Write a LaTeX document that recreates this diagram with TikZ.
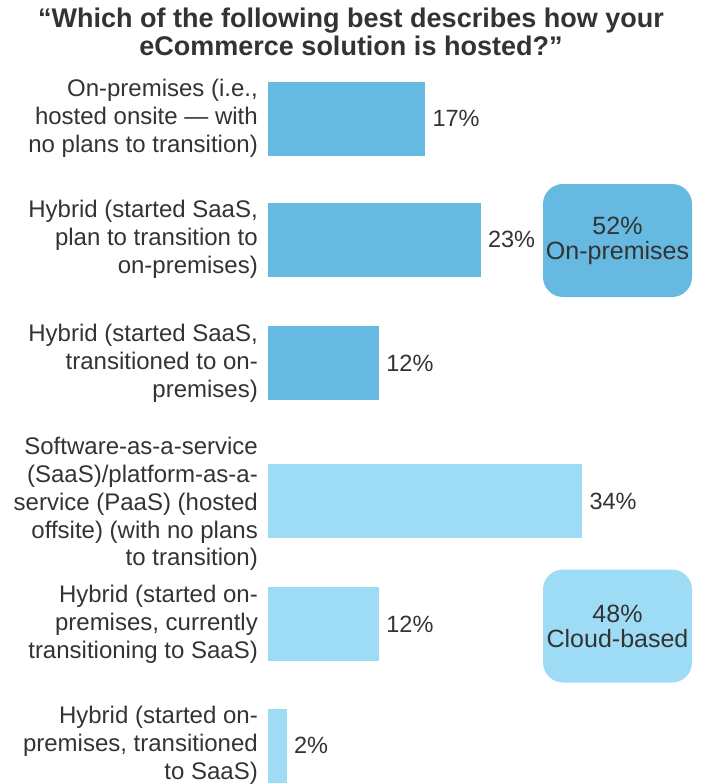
\documentclass[tikz,border=0pt]{standalone}
\usepackage{fontspec}
\setmainfont{Liberation Sans}
\usetikzlibrary{positioning}
\definecolor{onprem}{HTML}{66B9E1}
\definecolor{cloud}{HTML}{9EDCF6}
\definecolor{txt}{HTML}{333333}
\tikzset{
  bar/.style={fill=#1,inner sep=0pt,minimum height=74pt,anchor=west},
  lab/.style={anchor=east,align=right,text=txt,inner sep=0pt,font=\fontsize{24}{27.8}\selectfont},
  val/.style={anchor=west,text=txt,inner sep=0pt,font=\fontsize{23.5}{25}\selectfont},
  sumbox/.style={fill=#1,rounded corners=20pt,minimum width=149pt,minimum height=113pt,
    align=center,text=txt,inner sep=0pt,font=\fontsize{25}{25}\selectfont}
}
\begin{document}
\begin{tikzpicture}[x=1pt,y=-1pt]
\useasboundingbox (0,0) rectangle (705,784);
% title
\node[align=center,text=txt,font=\bfseries\fontsize{27}{28}\selectfont] (title) at (351,32)
  {“Which of the following best describes how your\\eCommerce solution is hosted?”};
% bars and values
\foreach \n/\v/\c/\y in {1/17/onprem/118.5, 2/23/onprem/239.5, 3/12/onprem/363,
                         4/34/cloud/501, 5/12/cloud/624, 6/2/cloud/745.5}{
  \node[bar=\c,minimum width=\v*9.235pt] (b\n) at (268,\y) {};
  \node[val] (v\n) at ([xshift=7pt]b\n.east) {\v\%};
}
% labels
\node[lab] (l1) at ([xshift=-10pt]b1.west) {On-premises (i.e.,\\hosted onsite — with\\no plans to transition)};
\node[lab] (l2) at ([xshift=-10pt]b2.west) {Hybrid (started SaaS,\\plan to transition to\\on-premises)};
\node[lab] (l3) at ([xshift=-10pt]b3.west) {Hybrid (started SaaS,\\transitioned to on-\\premises)};
\node[lab] (l4) at ([xshift=-10pt,yshift=-3pt]b4.west) {Software-as-a-service\\(SaaS)/platform-as-a-\\service (PaaS) (hosted\\offsite) (with no plans\\to transition)};
\node[lab] (l5) at ([xshift=-10pt]b5.west) {Hybrid (started on-\\premises, currently\\transitioning to SaaS)};
\node[lab] (l6) at ([xshift=-10pt]b6.west) {Hybrid (started on-\\premises, transitioned\\to SaaS)};
% totals
\node[sumbox=onprem] (s1) at (617.5,240.5) {52\%\\On-premises};
\node[sumbox=cloud] (s2) at (617.5,626) {48\%\\Cloud-based};
\end{tikzpicture}
\end{document}
